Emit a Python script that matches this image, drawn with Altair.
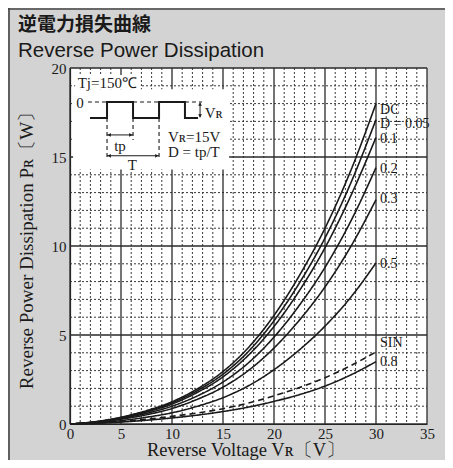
import altair as alt
import pandas as pd

# ---------------- data ----------------
V = [0, 2.5, 5, 7.5, 10, 12.5, 15, 17.5, 20, 22.5, 25, 27.5, 30]
P_DC = [0, 0.13, 0.38, 0.75, 1.25, 1.98, 2.95, 4.30, 6.10, 8.35, 11.0, 14.2, 18.0]
P_D005 = [0, 0.12, 0.36, 0.71, 1.19, 1.88, 2.80, 4.08, 5.80, 7.93, 10.45, 13.5, 17.1]
P_D01 = [0, 0.115, 0.34, 0.67, 1.12, 1.78, 2.65, 3.87, 5.48, 7.50, 9.90, 12.78, 16.1]
P_D02 = [0, 0.10, 0.30, 0.60, 1.00, 1.58, 2.36, 3.44, 4.88, 6.68, 8.80, 11.36, 14.4]
P_D03 = [0, 0.09, 0.27, 0.52, 0.87, 1.39, 2.07, 3.01, 4.27, 5.84, 7.70, 9.94, 12.6]
P_D05 = [0, 0.065, 0.19, 0.38, 0.63, 1.00, 1.48, 2.15, 3.05, 4.17, 5.50, 7.10, 9.05]
P_SIN = [0, 0.05, 0.14, 0.27, 0.43, 0.62, 0.86, 1.18, 1.58, 2.05, 2.60, 3.27, 4.05]
P_D08 = [0, 0.04, 0.11, 0.21, 0.34, 0.50, 0.70, 0.95, 1.27, 1.65, 2.13, 2.75, 3.50]

SERIES = ["DC", "D=0.05", "0.1", "0.2", "0.3", "0.5", "SIN", "0.8"]
VALUES = [P_DC, P_D005, P_D01, P_D02, P_D03, P_D05, P_SIN, P_D08]
DASHED = ["SIN"]

LABELS = ["DC", "D = 0.05", "0.1", "0.2", "0.3", "0.5", "SIN", "0.8"]
LABEL_Y = [17.65, 16.85, 16.0, 14.3, 12.65, 9.0, 4.55, 3.5]
LABEL_X = 30.4

X_TICKS = [0, 5, 10, 15, 20, 25, 30, 35]
Y_TICKS = [0, 5, 10, 15, 20]
X_MINOR = [v for v in range(0, 36) if v % 5]
Y_MINOR = [v for v in range(0, 21) if v % 5]

# inset (waveform sketch) in data units
WAVE_X = [1.96, 3.63, 3.63, 6.18, 6.18, 8.73, 8.73, 11.27, 11.27, 12.55]
WAVE_Y = [17.19, 17.19, 18.09, 18.09, 17.19, 17.19, 18.09, 18.09, 17.19, 17.19]

DASH_SEG = [  # x0, y0, x1, y1
    (1.76, 18.09, 3.63, 18.09),
    (6.18, 18.09, 8.73, 18.09),
    (11.27, 18.09, 12.94, 18.09),
    (3.63, 17.19, 3.63, 14.94),
    (6.18, 17.19, 6.18, 15.95),
    (8.73, 17.19, 8.73, 14.94),
]
ARROW_SEG = [
    (12.75, 18.05, 12.75, 17.23),
    (3.63, 16.24, 6.18, 16.24),
    (3.63, 15.07, 8.73, 15.07),
]
HEADS = [  # x, y, shape
    (12.75, 17.97, "triangle-up"),
    (12.75, 17.31, "triangle-down"),
    (3.85, 16.24, "triangle-left"),
    (5.96, 16.24, "triangle-right"),
    (3.85, 15.07, "triangle-left"),
    (8.51, 15.07, "triangle-right"),
]
INSET_BOX = [(0.3, 14.3, 15.6, 18.8), (0.5, 18.8, 6.9, 19.6)]
INSET_TEXT = [  # text, x, y, align
    ("Tj=150℃", 0.75, 19.17, "left"),
    ("0", 0.98, 18.06, "center"),
    ("Vʀ", 13.2, 17.47, "left"),
    ("tp", 4.9, 15.62, "center"),
    ("T", 6.1, 14.55, "center"),
    ("Vʀ=15V", 9.6, 16.14, "left"),
    ("D = tp/T", 9.6, 15.28, "left"),
]

# ---------------- styling ----------------
W, H = 357, 356
TOTAL_W, TOTAL_H = 437, 452
PAD_L, PAD_T = 62, 60
SERIF = "Liberation Serif"
INK = "#1a1a1a"
BG = "#d3d3d3"

xs = alt.Scale(domain=[0, 35], nice=False, zero=False)
ys = alt.Scale(domain=[0, 20], nice=False, zero=False)
x_axis = alt.Axis(values=X_TICKS, title=None, grid=False, ticks=False, domain=True,
                  domainColor=INK, domainWidth=1.2, labelFont=SERIF, labelFontSize=15,
                  labelColor=INK, labelPadding=2, labelFlush=False, labelOverlap=False)
y_axis = alt.Axis(values=Y_TICKS, title=None, grid=False, ticks=False, domain=True,
                  domainColor=INK, domainWidth=1.2, labelFont=SERIF, labelFontSize=15,
                  labelColor=INK, labelPadding=4, labelFlush=False, labelOverlap=False)


def X(f):
    return alt.X(f, scale=xs, axis=x_axis)


def Y(f):
    return alt.Y(f, scale=ys, axis=y_axis)


# ---------------- tables ----------------
rows = []
for name, vals in zip(SERIES, VALUES):
    for v, p in zip(V, vals):
        rows.append({"v": v, "p": p, "s": name,
                     "dash": "dashed" if name in DASHED else "solid"})
curve_df = pd.DataFrame(rows)

gx_minor = alt.Chart(pd.DataFrame({"v": X_MINOR})).mark_rule(
    color="#383838", strokeWidth=1, strokeDash=[2, 2]).encode(
    x=X("v:Q"), y=alt.value(0), y2=alt.value(H))
gy_minor = alt.Chart(pd.DataFrame({"p": Y_MINOR})).mark_rule(
    color="#383838", strokeWidth=1, strokeDash=[2, 2]).encode(
    y=Y("p:Q"), x=alt.value(0), x2=alt.value(W))
gx_major = alt.Chart(pd.DataFrame({"v": X_TICKS})).mark_rule(
    color="#2a2a2a", strokeWidth=1.3).encode(
    x=X("v:Q"), y=alt.value(0), y2=alt.value(H))
gy_major = alt.Chart(pd.DataFrame({"p": Y_TICKS})).mark_rule(
    color="#2a2a2a", strokeWidth=1.3).encode(
    y=Y("p:Q"), x=alt.value(0), x2=alt.value(W))

box_df = pd.DataFrame(INSET_BOX, columns=["x0", "y0", "x1", "y1"])
boxes = alt.Chart(box_df).mark_rect(fill="white").encode(
    x=X("x0:Q"), x2="x1:Q", y=Y("y0:Q"), y2="y1:Q")

curves = alt.Chart(curve_df).mark_line(color=INK, strokeWidth=1.6, interpolate="monotone").encode(
    x=X("v:Q"), y=Y("p:Q"), detail="s:N",
    strokeDash=alt.StrokeDash("dash:N", scale=alt.Scale(domain=["solid", "dashed"],
                                                        range=[[1, 0], [6, 4]]), legend=None))

label_df = pd.DataFrame({"t": LABELS, "y": LABEL_Y, "x": [LABEL_X] * len(LABELS)})
labels = alt.Chart(label_df).mark_text(font=SERIF, fontSize=14, color=INK, align="left",
                                       baseline="middle").encode(
    x=X("x:Q"), y=Y("y:Q"), text="t:N")

wave_df = pd.DataFrame({"x": WAVE_X, "y": WAVE_Y, "o": list(range(len(WAVE_X)))})
wave = alt.Chart(wave_df).mark_line(color=INK, strokeWidth=2, interpolate="linear").encode(
    x=X("x:Q"), y=Y("y:Q"), order="o:Q")

dash_df = pd.DataFrame(DASH_SEG, columns=["x0", "y0", "x1", "y1"])
dashes = alt.Chart(dash_df).mark_rule(color=INK, strokeWidth=1.1, strokeDash=[4, 3]).encode(
    x=X("x0:Q"), y=Y("y0:Q"), x2="x1:Q", y2="y1:Q")

arrow_df = pd.DataFrame(ARROW_SEG, columns=["x0", "y0", "x1", "y1"])
arrows = alt.Chart(arrow_df).mark_rule(color=INK, strokeWidth=1).encode(
    x=X("x0:Q"), y=Y("y0:Q"), x2="x1:Q", y2="y1:Q")

head_df = pd.DataFrame(HEADS, columns=["x", "y", "sh"])
heads = alt.Chart(head_df).mark_point(filled=True, color=INK, size=14, opacity=1).encode(
    x=X("x:Q"), y=Y("y:Q"), shape=alt.Shape("sh:N", scale=None))

itext_df = pd.DataFrame(INSET_TEXT, columns=["t", "x", "y", "al"])
itexts = []
for al in ["left", "center"]:
    itexts.append(alt.Chart(itext_df[itext_df.al == al]).mark_text(
        font=SERIF, fontSize=15, color=INK, align=al, baseline="middle").encode(
        x=X("x:Q"), y=Y("y:Q"), text="t:N"))


def free_text(txt, x, y, **kw):
    return alt.Chart(pd.DataFrame({"t": [txt]})).mark_text(color=INK, **kw).encode(
        x=alt.value(x), y=alt.value(y), text="t:N")


title_jp = free_text("逆電力損失曲線", -52, -37, font="Noto Sans CJK JP", fontWeight="bold",
                     fontSize=19, align="left", baseline="alphabetic")
title_en = free_text("Reverse Power Dissipation", -52, -11, font="Liberation Sans",
                     fontSize=20.5, align="left", baseline="alphabetic")
ytitle = free_text("Reverse Power Dissipation  Pʀ〔W〕", -37, H / 2, font=SERIF, fontSize=19,
                   angle=270, align="center", baseline="alphabetic")
xtitle = free_text("Reverse Voltage  Vʀ〔V〕", 176, H + 32, font=SERIF, fontSize=18.5,
                   align="center", baseline="alphabetic")

frame_top = alt.Chart(pd.DataFrame({"k": [0]})).mark_rule(color="#444", strokeWidth=1.6).encode(
    x=alt.value(-PAD_L), x2=alt.value(TOTAL_W - PAD_L), y=alt.value(1 - PAD_T))
frame_left = alt.Chart(pd.DataFrame({"k": [0]})).mark_rule(color="#444", strokeWidth=1.6).encode(
    x=alt.value(1 - PAD_L), y=alt.value(-PAD_T), y2=alt.value(TOTAL_H - PAD_T))

chart = alt.layer(
    gx_minor, gy_minor, gx_major, gy_major, boxes, curves, labels,
    dashes, wave, arrows, heads, *itexts,
    title_jp, title_en, ytitle, xtitle, frame_top, frame_left,
).properties(
    width=W, height=H,
    autosize=alt.AutoSizeParams(type="none"),
    padding={"left": PAD_L, "top": PAD_T, "right": TOTAL_W - PAD_L - W,
             "bottom": TOTAL_H - PAD_T - H},
    background=BG,
).configure_view(fill="white", stroke=None)

chart.save("out.html", embed_options={"renderer": "svg", "actions": False})
